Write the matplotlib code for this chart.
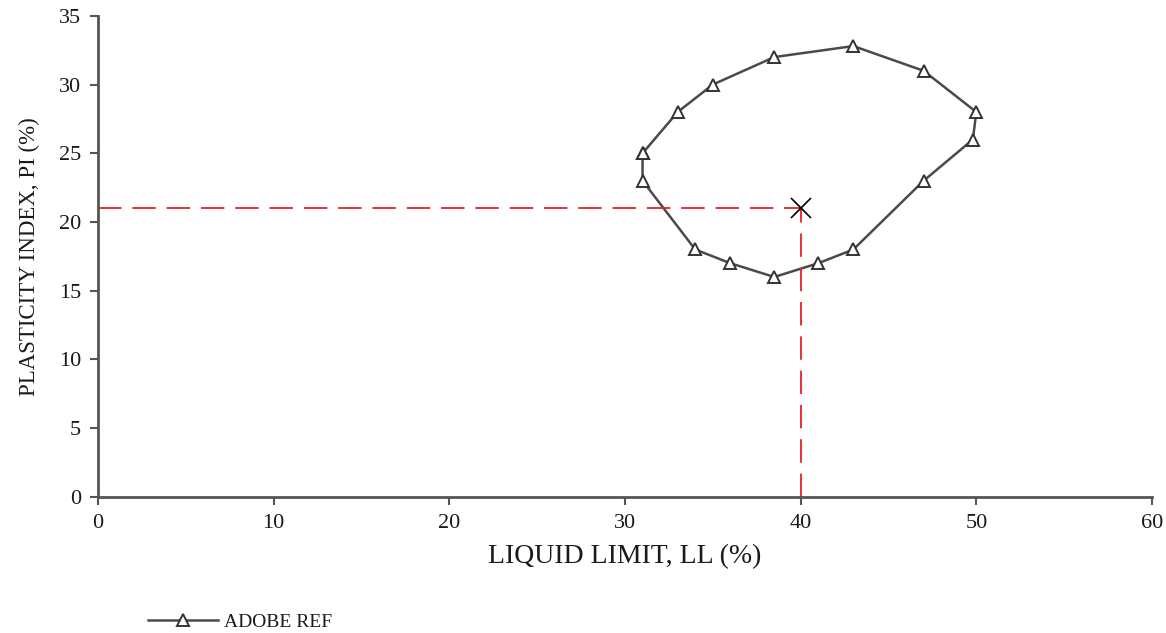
import matplotlib
matplotlib.use("Agg")
import matplotlib.pyplot as plt

# Datos (contorno ADOBE REF, cerrado)
ll_values = [31, 33, 35, 38.5, 43, 47, 50, 49.8, 47, 43, 41, 38.5, 36, 34, 31, 31]
pi_values = [25, 28, 30, 32, 32.8, 31, 28, 26, 23, 18, 17, 16, 17, 18, 23, 25]

# Punto de referencia marcado con la X
ref_ll = 40
ref_pi = 21

plt.rcParams['font.family'] = ['Liberation Serif', 'DejaVu Serif']

fig = plt.figure(figsize=(11.66, 6.33), dpi=100)
ax = fig.add_axes([0.084, 0.215, 0.904, 0.76])

line, = ax.plot(ll_values, pi_values, color='#4a4a4a', linewidth=1.8,
                marker='^', markersize=8, markerfacecolor='white',
                markeredgecolor='#333333', markeredgewidth=1.4, label='ADOBE REF')

# Líneas guía rojas discontinuas hasta el punto de referencia
ax.plot([0, ref_ll], [ref_pi, ref_pi], color='#e8202a', linestyle=(0, (13, 6)), linewidth=1.3)
ax.plot([ref_ll, ref_ll], [0, ref_pi], color='#e8202a', linestyle=(0, (13, 6)), linewidth=1.3)
ax.plot([ref_ll], [ref_pi], marker='x', color='black', markersize=15, markeredgewidth=1.2)

ax.set_xlim(0, 60)
ax.set_ylim(0, 35)
ax.set_xticks(range(0, 61, 10))
ax.set_yticks(range(0, 36, 5))

for side in ['top', 'right']:
    ax.spines[side].set_visible(False)
for side in ['left', 'bottom']:
    ax.spines[side].set_color('#555555')
    ax.spines[side].set_linewidth(2)

ax.tick_params(direction='out', length=6, width=1.5, color='#555555',
               labelsize=16, labelcolor='#1a1a1a', pad=6)

ax.set_xlabel('LIQUID LIMIT, LL (%)', fontsize=20, color='#1a1a1a', labelpad=8)
ax.set_ylabel('PLASTICITY INDEX, PI (%)', fontsize=16.5, color='#1a1a1a', labelpad=14)

fig.legend(handles=[line], loc='center left', bbox_to_anchor=(0.112, 0.017),
           frameon=False, fontsize=14, handlelength=3.6, handletextpad=0.3,
           labelcolor='#1a1a1a')

fig.savefig('out.png', dpi=100)
